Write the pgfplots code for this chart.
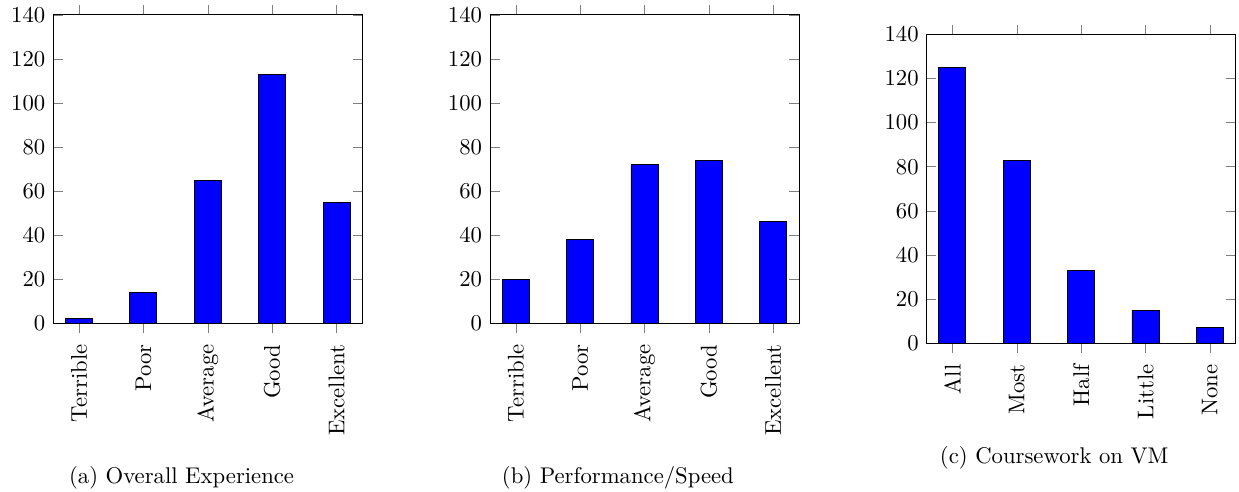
\documentclass[border=0pt]{standalone}
\usepackage{pgfplots}
\pgfplotsset{compat=1.18}
\pgfplotsset{
  barsty/.style={
    scale only axis,
    width=136.1pt, height=135.9pt,
    ybar, bar width=11.9pt,
    xmin=-0.4, xmax=4.4,
    ymin=0, ymax=140,
    ytick={0,20,...,140},
    xtick={0,1,2,3,4},
    xtick align=outside,
    x tick label style={rotate=90, anchor=east, inner xsep=4.9pt},
    anchor=south west,
  }
}
\begin{document}
\begin{tikzpicture}
\path[use as bounding box] (0,0) rectangle (545.8pt,-216.3pt);
\begin{axis}[barsty, at={(23.48pt,-142.42pt)},
  xticklabels={Terrible,Poor,Average,Good,Excellent}]
\addplot[fill=blue, draw=black] coordinates {(0,2) (1,14) (2,65) (3,113) (4,55)};
\end{axis}
\begin{axis}[barsty, at={(215.86pt,-142.42pt)},
  xticklabels={Terrible,Poor,Average,Good,Excellent}]
\addplot[fill=blue, draw=black] coordinates {(0,20) (1,38) (2,72) (3,74) (4,46)};
\end{axis}
\begin{axis}[barsty, at={(408.2pt,-151.2pt)}, height=136.1pt,
  xticklabels={All,Most,Half,Little,None}]
\addplot[fill=blue, draw=black] coordinates {(0,125) (1,83) (2,33) (3,15) (4,7)};
\end{axis}
\node[anchor=base, inner sep=0pt] at (80.0pt,-212.8pt) {(a) Overall Experience};
\node[anchor=base, inner sep=0pt] at (272.2pt,-212.8pt) {(b) Performance/Speed};
\node[anchor=base, inner sep=0pt] at (464.4pt,-204.1pt) {(c) Coursework on VM};
\end{tikzpicture}
\end{document}
